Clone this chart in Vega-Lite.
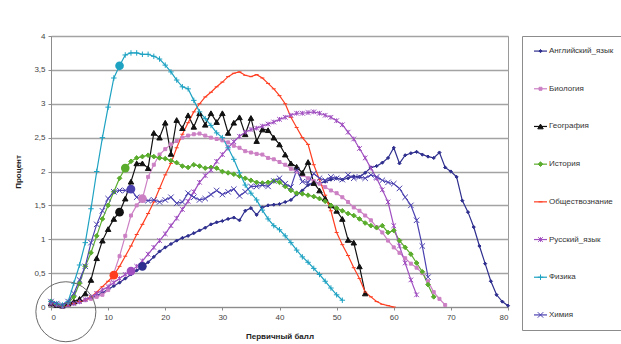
{
"$schema": "https://vega.github.io/schema/vega-lite/v6.json",
"padding": {"left": 14, "top": 31, "right": 0, "bottom": 0},
"background": "white",
"spacing": 8,
"config": {
  "font": "Liberation Sans",
  "view": {"stroke": null},
  "axis": {"labelFont": "Liberation Sans", "labelFontSize": 8, "labelColor": "#444", "titleFont": "Liberation Sans", "titleFontSize": 8, "titleFontWeight": "bold", "titleColor": "#222", "domainColor": "#8c8c8c", "tickColor": "#8c8c8c", "tickSize": 3, "labelOverlap": false}
},
"datasets": {
  "curves": [
    {"b":0,"E":0.05,"B":0.05,"G":0.05,"H":0.08,"O":0.05,"R":0.05,"F":0.08,"X":0.08},
    {"b":1,"E":0.03,"B":0.03,"G":0.03,"H":0.04,"O":0.02,"R":0.03,"F":0.05,"X":0.05},
    {"b":2,"E":0.02,"B":0.01,"G":0.02,"H":0.02,"O":0.01,"R":0.01,"F":0.03,"X":0.03},
    {"b":3,"E":0.03,"B":0.03,"G":0.05,"H":0.06,"O":0.02,"R":0.03,"F":0.08,"X":0.08},
    {"b":4,"E":0.05,"B":0.06,"G":0.08,"H":0.15,"O":0.05,"R":0.05,"F":0.35,"X":0.2},
    {"b":5,"E":0.07,"B":0.08,"G":0.12,"H":0.35,"O":0.08,"R":0.08,"F":0.62,"X":0.4},
    {"b":6,"E":0.1,"B":0.1,"G":0.2,"H":0.6,"O":0.1,"R":0.11,"F":0.95,"X":0.6},
    {"b":7,"E":0.13,"B":0.12,"G":0.4,"H":0.8,"O":0.15,"R":0.15,"F":1.45,"X":0.95},
    {"b":8,"E":0.17,"B":0.15,"G":0.72,"H":1.05,"O":0.22,"R":0.2,"F":2.0,"X":1.22},
    {"b":9,"E":0.21,"B":0.18,"G":0.98,"H":1.3,"O":0.3,"R":0.25,"F":2.5,"X":1.42},
    {"b":10,"E":0.26,"B":0.25,"G":1.15,"H":1.5,"O":0.38,"R":0.3,"F":2.95,"X":1.6},
    {"b":11,"E":0.31,"B":0.5,"G":1.3,"H":1.7,"O":0.47,"R":0.36,"F":3.38,"X":1.7},
    {"b":12,"E":0.36,"B":0.75,"G":1.4,"H":1.9,"O":0.6,"R":0.42,"F":3.56,"X":1.72},
    {"b":13,"E":0.42,"B":1.05,"G":1.6,"H":2.05,"O":0.75,"R":0.48,"F":3.72,"X":1.72},
    {"b":14,"E":0.48,"B":1.35,"G":1.85,"H":2.15,"O":0.9,"R":0.53,"F":3.75,"X":1.74},
    {"b":15,"E":0.54,"B":1.5,"G":2.12,"H":2.2,"O":1.07,"R":0.6,"F":3.75,"X":1.62},
    {"b":16,"E":0.6,"B":1.6,"G":2.12,"H":2.22,"O":1.22,"R":0.68,"F":3.73,"X":1.58},
    {"b":17,"E":0.66,"B":1.92,"G":2.05,"H":2.24,"O":1.38,"R":0.78,"F":3.73,"X":1.57},
    {"b":18,"E":0.74,"B":2.1,"G":2.57,"H":2.22,"O":1.55,"R":0.88,"F":3.7,"X":1.58},
    {"b":19,"E":0.82,"B":2.25,"G":2.5,"H":2.2,"O":1.75,"R":0.98,"F":3.66,"X":1.55},
    {"b":20,"E":0.88,"B":2.33,"G":2.72,"H":2.19,"O":1.95,"R":1.08,"F":3.57,"X":1.58},
    {"b":21,"E":0.93,"B":2.4,"G":2.26,"H":2.16,"O":2.12,"R":1.2,"F":3.47,"X":1.62},
    {"b":22,"E":0.98,"B":2.45,"G":2.76,"H":2.13,"O":2.35,"R":1.31,"F":3.35,"X":1.53},
    {"b":23,"E":1.02,"B":2.5,"G":2.64,"H":2.08,"O":2.55,"R":1.44,"F":3.25,"X":1.55},
    {"b":24,"E":1.05,"B":2.53,"G":2.83,"H":2.06,"O":2.72,"R":1.56,"F":3.22,"X":1.68},
    {"b":25,"E":1.09,"B":2.55,"G":2.66,"H":2.1,"O":2.88,"R":1.7,"F":3.05,"X":1.62},
    {"b":26,"E":1.13,"B":2.56,"G":2.86,"H":2.08,"O":3.0,"R":1.84,"F":2.88,"X":1.58},
    {"b":27,"E":1.17,"B":2.53,"G":2.69,"H":2.05,"O":3.1,"R":1.94,"F":2.78,"X":1.6},
    {"b":28,"E":1.22,"B":2.5,"G":2.86,"H":2.06,"O":3.17,"R":2.02,"F":2.68,"X":1.66},
    {"b":29,"E":1.25,"B":2.48,"G":2.73,"H":2.05,"O":3.25,"R":2.15,"F":2.57,"X":1.72},
    {"b":30,"E":1.27,"B":2.46,"G":2.86,"H":2.0,"O":3.32,"R":2.25,"F":2.5,"X":1.66},
    {"b":31,"E":1.3,"B":2.43,"G":2.57,"H":1.98,"O":3.4,"R":2.35,"F":2.35,"X":1.7},
    {"b":32,"E":1.32,"B":2.38,"G":2.72,"H":1.96,"O":3.45,"R":2.44,"F":2.18,"X":1.74},
    {"b":33,"E":1.28,"B":2.35,"G":2.8,"H":1.93,"O":3.47,"R":2.52,"F":1.98,"X":1.64},
    {"b":34,"E":1.42,"B":2.3,"G":2.55,"H":1.9,"O":3.42,"R":2.58,"F":1.8,"X":1.7},
    {"b":35,"E":1.46,"B":2.28,"G":2.79,"H":1.87,"O":3.4,"R":2.62,"F":1.68,"X":1.78},
    {"b":36,"E":1.36,"B":2.26,"G":2.45,"H":1.84,"O":3.43,"R":2.64,"F":1.58,"X":1.78},
    {"b":37,"E":1.47,"B":2.25,"G":2.62,"H":1.83,"O":3.38,"R":2.67,"F":1.43,"X":1.8},
    {"b":38,"E":1.5,"B":2.2,"G":2.61,"H":1.84,"O":3.3,"R":2.7,"F":1.3,"X":1.78},
    {"b":39,"E":1.51,"B":2.18,"G":2.5,"H":1.86,"O":3.22,"R":2.73,"F":1.2,"X":1.86},
    {"b":40,"E":1.52,"B":2.14,"G":2.4,"H":1.84,"O":3.12,"R":2.77,"F":1.14,"X":1.9},
    {"b":41,"E":1.55,"B":2.1,"G":2.25,"H":1.78,"O":3.0,"R":2.8,"F":1.05,"X":1.82},
    {"b":42,"E":1.58,"B":2.04,"G":2.12,"H":1.72,"O":2.8,"R":2.83,"F":0.95,"X":1.77},
    {"b":43,"E":1.66,"B":2.0,"G":2.07,"H":1.68,"O":2.65,"R":2.86,"F":0.84,"X":2.02},
    {"b":44,"E":1.72,"B":1.95,"G":1.98,"H":1.67,"O":2.5,"R":2.86,"F":0.74,"X":1.85},
    {"b":45,"E":1.8,"B":1.9,"G":2.14,"H":1.65,"O":2.4,"R":2.87,"F":0.66,"X":1.84},
    {"b":46,"E":1.84,"B":1.86,"G":1.83,"H":1.63,"O":2.1,"R":2.88,"F":0.57,"X":1.97},
    {"b":47,"E":1.83,"B":1.82,"G":1.72,"H":1.6,"O":1.88,"R":2.86,"F":0.48,"X":1.9},
    {"b":48,"E":1.85,"B":1.77,"G":1.6,"H":1.56,"O":1.65,"R":2.83,"F":0.38,"X":1.87},
    {"b":49,"E":1.88,"B":1.72,"G":1.5,"H":1.5,"O":1.42,"R":2.8,"F":0.28,"X":1.92},
    {"b":50,"E":1.9,"B":1.68,"G":1.42,"H":1.46,"O":1.1,"R":2.75,"F":0.18,"X":1.9},
    {"b":51,"E":1.88,"B":1.62,"G":1.3,"H":1.42,"O":0.92,"R":2.69,"F":0.1,"X":1.88},
    {"b":52,"E":1.9,"B":1.55,"G":0.99,"H":1.38,"O":0.76,"R":2.58,"X":1.95},
    {"b":53,"E":1.93,"B":1.47,"G":0.95,"H":1.35,"O":0.58,"R":2.48,"X":1.9},
    {"b":54,"E":1.92,"B":1.42,"G":0.6,"H":1.3,"O":0.42,"R":2.34,"X":1.92},
    {"b":55,"E":1.98,"B":1.35,"G":0.2,"H":1.24,"O":0.22,"R":2.2,"X":1.9},
    {"b":56,"E":2.06,"B":1.28,"H":1.2,"O":0.15,"R":2.05,"X":1.95},
    {"b":57,"E":2.08,"B":1.18,"H":1.17,"O":0.08,"R":1.9,"X":1.92},
    {"b":58,"E":2.13,"B":1.1,"H":1.2,"O":0.04,"R":1.73,"X":1.87},
    {"b":59,"E":2.2,"B":0.98,"H":1.1,"O":0.02,"R":1.55,"X":1.84},
    {"b":60,"E":2.35,"B":0.88,"H":1.13,"O":0.0,"R":1.2,"X":1.82},
    {"b":61,"E":2.12,"B":0.8,"H":0.98,"R":0.9,"X":1.75},
    {"b":62,"E":2.24,"B":0.72,"H":0.88,"R":0.65,"X":1.62},
    {"b":63,"E":2.27,"B":0.64,"H":0.78,"R":0.4,"X":1.5},
    {"b":64,"E":2.29,"B":0.58,"H":0.65,"R":0.18,"X":1.28},
    {"b":65,"E":2.25,"B":0.5,"H":0.52,"X":0.9},
    {"b":66,"E":2.22,"B":0.38,"H":0.33,"X":0.44},
    {"b":67,"E":2.2,"B":0.22,"H":0.15},
    {"b":68,"E":2.28,"B":0.12},
    {"b":69,"E":2.06,"B":0.03},
    {"b":70,"E":2.0},
    {"b":71,"E":1.92},
    {"b":72,"E":1.57},
    {"b":73,"E":1.4},
    {"b":74,"E":1.18},
    {"b":75,"E":0.9},
    {"b":76,"E":0.64},
    {"b":77,"E":0.38},
    {"b":78,"E":0.18},
    {"b":79,"E":0.08},
    {"b":80,"E":0.02}
  ],
  "thresholds": [
    {"k":"F","b":12,"p":3.56},
    {"k":"O","b":11,"p":0.47},
    {"k":"R","b":14,"p":0.53},
    {"k":"E","b":16,"p":0.6},
    {"k":"X","b":14,"p":1.74},
    {"k":"H","b":13,"p":2.05},
    {"k":"G","b":12,"p":1.4},
    {"k":"B","b":16,"p":1.6}
  ],
  "ring": [{"b":2.6,"p":-0.07}],
  "names": [
    {"k":"E","name":"Английский_язык"},
    {"k":"B","name":"Биология"},
    {"k":"G","name":"География"},
    {"k":"H","name":"История"},
    {"k":"O","name":"Обществознание"},
    {"k":"R","name":"Русский_язык"},
    {"k":"F","name":"Физика"},
    {"k":"X","name":"Химия"}
  ]
},
"hconcat": [
  {
    "width": 457,
    "height": 271,
    "view": {"stroke": "#9a9a9a", "strokeWidth": 1},
    "encoding": {
      "x": {"field": "b", "type": "quantitative", "scale": {"domain": [0,80], "nice": false}, "axis": {"title": "Первичный балл", "values": [0,10,20,30,40,50,60,70,80], "grid": false, "labelPadding": 3, "titlePadding": 11}},
      "y": {"field": "p", "type": "quantitative", "scale": {"domain": [0,4], "nice": false}, "axis": {"title": "Процент", "values": [0,0.5,1,1.5,2,2.5,3,3.5,4], "tickCount": 9, "grid": true, "gridColor": "#a3a3a3", "gridWidth": 1.6, "labelExpr": "replace(format(datum.value, '.1~f'), '.', ',')", "labelPadding": 3, "titlePadding": 11}}
    },
    "layer": [
      {
        "data": {"name": "curves"},
        "transform": [
          {"fold": ["E","B","G","H","O","R","F","X"], "as": ["k","p"]},
          {"filter": "isValid(datum.p)"}
        ],
        "layer": [
          {
            "mark": {"type": "line", "strokeWidth": 1.2},
            "encoding": {
              "color": {"field": "k", "type": "nominal", "scale": {"domain": ["E","B","G","H","O","R","F","X"], "range": ["#2e2e8e","#cc80c4","#111111","#5aac2c","#ff3d20","#a04fc0","#1ea2c2","#4b42b0"]}, "legend": null}
            }
          },
          {
            "mark": {"type": "point", "filled": true, "strokeWidth": 1, "opacity": 1},
            "encoding": {
              "color": {"field": "k", "type": "nominal", "legend": null},
              "stroke": {"field": "k", "type": "nominal", "scale": {"domain": ["E","B","G","H","O","R","F","X"], "range": ["#2e2e8e","#cc80c4","#111111","#5aac2c","#ff3d20","#a04fc0","#1ea2c2","#4b42b0"]}, "legend": null},
              "shape": {"field": "k", "type": "nominal", "scale": {"domain": ["E","B","G","H","O","R","F","X"], "range": ["diamond","square","triangle-up","diamond","M-1,0L1,0","M-1,-1L1,1M1,-1L-1,1M0,-1L0,1","M-1,0L1,0M0,-1L0,1","M-1,-1L1,1M1,-1L-1,1"]}, "legend": null},
              "size": {"field": "k", "type": "nominal", "scale": {"type": "ordinal", "domain": ["E","B","G","H","O","R","F","X"], "range": [10,9,30,22,16,22,30,30]}, "legend": null}
            }
          }
        ]
      },
      {
        "data": {"name": "thresholds"},
        "mark": {"type": "circle", "size": 75, "opacity": 1},
        "encoding": {
          "color": {"field": "k", "type": "nominal", "legend": null}
        }
      },
      {
        "data": {"name": "ring"},
        "mark": {"type": "point", "shape": "circle", "size": 3600, "filled": false, "stroke": "#6a6a6a", "strokeWidth": 1, "opacity": 1},
        "encoding": {}
      }
    ]
  },
  {
    "width": 110,
    "height": 294,
    "view": {"stroke": "#8c8c8c", "strokeWidth": 1},
    "data": {"name": "names"},
    "encoding": {
      "y": {"field": "k", "type": "nominal", "scale": {"type": "point", "domain": ["E","B","G","H","O","R","F","X"], "padding": 0.4}, "axis": null}
    },
    "layer": [
      {
        "mark": {"type": "rule", "strokeWidth": 1.2},
        "encoding": {
          "x": {"datum": 12, "type": "quantitative", "scale": {"domain": [0,110]}, "axis": null},
          "x2": {"datum": 25},
          "color": {"field": "k", "type": "nominal", "scale": {"domain": ["E","B","G","H","O","R","F","X"], "range": ["#2e2e8e","#cc80c4","#111111","#5aac2c","#ff3d20","#a04fc0","#1ea2c2","#4b42b0"]}, "legend": null}
        }
      },
      {
        "mark": {"type": "point", "filled": true, "strokeWidth": 1, "opacity": 1},
        "encoding": {
          "x": {"datum": 18.5, "type": "quantitative"},
          "color": {"field": "k", "type": "nominal", "legend": null},
          "stroke": {"field": "k", "type": "nominal", "scale": {"domain": ["E","B","G","H","O","R","F","X"], "range": ["#2e2e8e","#cc80c4","#111111","#5aac2c","#ff3d20","#a04fc0","#1ea2c2","#4b42b0"]}, "legend": null},
          "shape": {"field": "k", "type": "nominal", "scale": {"domain": ["E","B","G","H","O","R","F","X"], "range": ["diamond","square","triangle-up","diamond","M-1,0L1,0","M-1,-1L1,1M1,-1L-1,1M0,-1L0,1","M-1,0L1,0M0,-1L0,1","M-1,-1L1,1M1,-1L-1,1"]}, "legend": null},
          "size": {"field": "k", "type": "nominal", "scale": {"type": "ordinal", "domain": ["E","B","G","H","O","R","F","X"], "range": [10,9,30,22,16,22,30,30]}, "legend": null}
        }
      },
      {
        "mark": {"type": "text", "align": "left", "baseline": "middle", "fontSize": 8, "color": "#333"},
        "encoding": {
          "x": {"datum": 27, "type": "quantitative"},
          "text": {"field": "name"}
        }
      }
    ]
  }
]
}
